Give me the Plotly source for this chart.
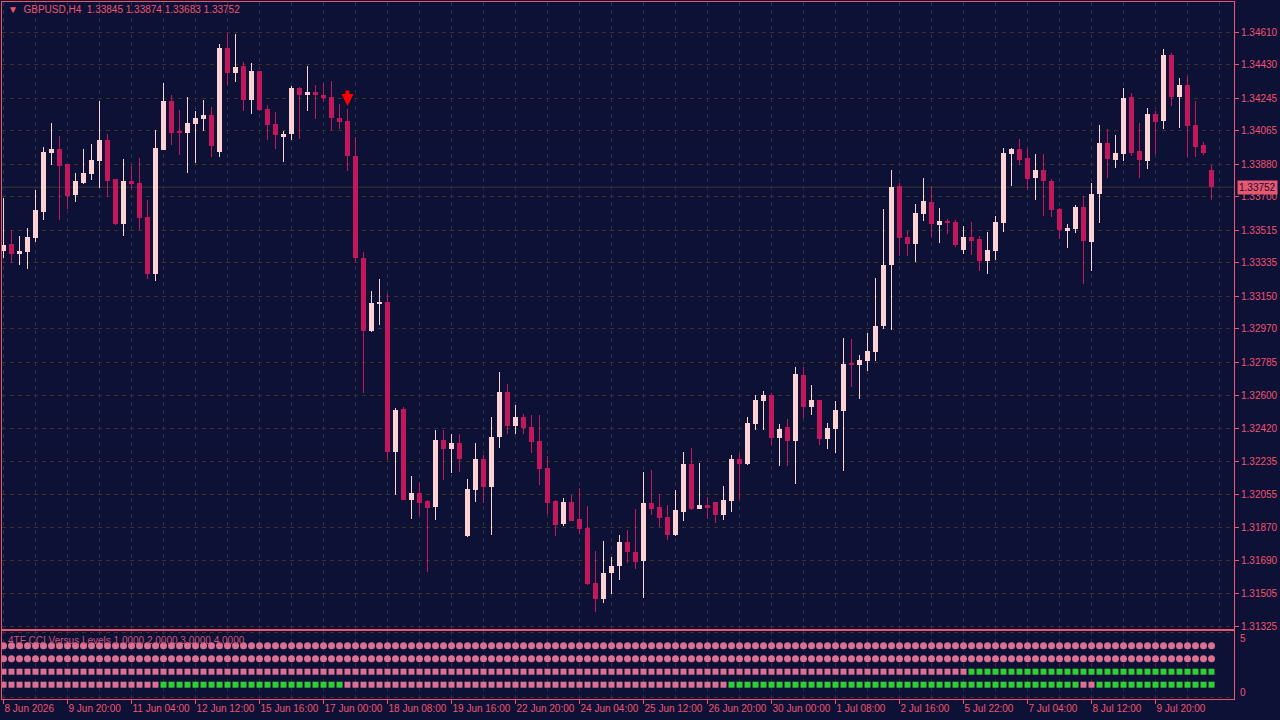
import plotly.graph_objects as go

symbol = "GBPUSD"
timeframe = "H4"

opens = [
    1.33399, 1.33438, 1.33382, 1.33393, 1.33471, 1.33615, 1.33941, 1.33963, 1.33880, 1.33709,
    1.33775, 1.33825, 1.33897, 1.34013, 1.33797, 1.33548, 1.33786, 1.33775, 1.33587, 1.33272,
    1.33958, 1.34229, 1.34057, 1.34052, 1.34101, 1.34129, 1.34151, 1.33946, 1.34522, 1.34383,
    1.34422, 1.34234, 1.34394, 1.34184, 1.34101, 1.34035, 1.34046, 1.34300, 1.34262, 1.34278,
    1.34262, 1.34251, 1.34134, 1.34118, 1.33924, 1.33360, 1.32957, 1.33111, 1.33117, 1.32287,
    1.32525, 1.32022, 1.32061, 1.32017, 1.31983, 1.32354, 1.32304, 1.32337, 1.31823, 1.32077,
    1.32249, 1.32094, 1.32370, 1.32619, 1.32431, 1.32481, 1.32426, 1.32348, 1.32199, 1.32017,
    1.31889, 1.32011, 1.31917, 1.31867, 1.31563, 1.31475, 1.31618, 1.31657, 1.31790, 1.31734,
    1.31685, 1.32005, 1.31983, 1.31928, 1.31829, 1.31956, 1.32221, 1.31972, 1.31994, 1.32011,
    1.31939, 1.32017, 1.32249, 1.32221, 1.32442, 1.32570, 1.32603, 1.32365, 1.32426, 1.32348,
    1.32713, 1.32536, 1.32575, 1.32359, 1.32415, 1.32514, 1.32780, 1.32769, 1.32791, 1.32840,
    1.32982, 1.33322, 1.33758, 1.33476, 1.33438, 1.33604, 1.33670, 1.33543, 1.33565, 1.33559,
    1.33405, 1.33476, 1.33465, 1.33344, 1.33399, 1.33554, 1.33935, 1.33963, 1.33913, 1.33803,
    1.33847, 1.33786, 1.33631, 1.33515, 1.33521, 1.33642, 1.33449, 1.33714, 1.33996, 1.33902,
    1.33935, 1.34251, 1.33952, 1.33897, 1.34157, 1.34118, 1.34483, 1.34251, 1.34317, 1.34096,
    1.33985, 1.33845,
]
highs = [
    1.33692, 1.33515, 1.33482, 1.33526, 1.33736, 1.33974, 1.34107, 1.34035, 1.33880, 1.33830,
    1.33963, 1.33991, 1.34229, 1.34046, 1.33800, 1.33908, 1.33869, 1.33913, 1.33681, 1.34068,
    1.34328, 1.34262, 1.34179, 1.34251, 1.34173, 1.34234, 1.34195, 1.34544, 1.34605, 1.34599,
    1.34444, 1.34439, 1.34397, 1.34206, 1.34168, 1.34063, 1.34312, 1.34306, 1.34422, 1.34317,
    1.34328, 1.34339, 1.34212, 1.34184, 1.34029, 1.33393, 1.33178, 1.33244, 1.33161, 1.32531,
    1.32536, 1.32155, 1.32122, 1.32020, 1.32409, 1.32409, 1.32387, 1.32387, 1.32138, 1.32337,
    1.32271, 1.32481, 1.32730, 1.32664, 1.32547, 1.32498, 1.32492, 1.32492, 1.32265, 1.32022,
    1.32033, 1.32050, 1.32088, 1.31989, 1.31740, 1.31795, 1.31707, 1.31829, 1.31856, 1.31972,
    1.32177, 1.32188, 1.32055, 1.31994, 1.32077, 1.32287, 1.32312, 1.32227, 1.32039, 1.32014,
    1.32099, 1.32271, 1.32282, 1.32481, 1.32603, 1.32625, 1.32614, 1.32442, 1.32470, 1.32758,
    1.32758, 1.32658, 1.32578, 1.32448, 1.32570, 1.32918, 1.32912, 1.32824, 1.32946, 1.33250,
    1.33631, 1.33847, 1.33775, 1.33510, 1.33659, 1.33803, 1.33758, 1.33637, 1.33576, 1.33570,
    1.33537, 1.33559, 1.33482, 1.33504, 1.33593, 1.33969, 1.33969, 1.34018, 1.33969, 1.33935,
    1.33935, 1.33797, 1.33637, 1.33548, 1.33653, 1.33703, 1.33775, 1.34096, 1.34074, 1.34040,
    1.34300, 1.34273, 1.34107, 1.34190, 1.34173, 1.34516, 1.34494, 1.34356, 1.34367, 1.34229,
    1.34002, 1.33874,
]
lows = [
    1.33360, 1.33333, 1.33322, 1.33299, 1.33449, 1.33570, 1.33875, 1.33570, 1.33631, 1.33670,
    1.33770, 1.33792, 1.33747, 1.33698, 1.33543, 1.33482, 1.33736, 1.33515, 1.33244, 1.33233,
    1.33955, 1.33985, 1.33930, 1.33830, 1.33886, 1.34063, 1.33919, 1.33919, 1.34317, 1.34334,
    1.34173, 1.34157, 1.34176, 1.34013, 1.33963, 1.33891, 1.34013, 1.34018, 1.34173, 1.34129,
    1.34223, 1.34068, 1.34074, 1.33841, 1.33338, 1.32614, 1.32954, 1.32990, 1.32243, 1.32050,
    1.32020, 1.31917, 1.31934, 1.31624, 1.31911, 1.32133, 1.32171, 1.32177, 1.31817, 1.32011,
    1.32005, 1.31829, 1.32312, 1.32387, 1.32387, 1.32387, 1.32282, 1.32105, 1.31945, 1.31823,
    1.31878, 1.31904, 1.31834, 1.31552, 1.31403, 1.31452, 1.31502, 1.31580, 1.31674, 1.31640,
    1.31480, 1.31939, 1.31873, 1.31801, 1.31823, 1.31906, 1.31967, 1.31970, 1.31917, 1.31895,
    1.31911, 1.31956, 1.32022, 1.32218, 1.32409, 1.32409, 1.32326, 1.32210, 1.32210, 1.32111,
    1.32476, 1.32492, 1.32326, 1.32307, 1.32282, 1.32182, 1.32647, 1.32581, 1.32735, 1.32791,
    1.32968, 1.32962, 1.33371, 1.33371, 1.33338, 1.33565, 1.33476, 1.33443, 1.33493, 1.33421,
    1.33382, 1.33377, 1.33288, 1.33272, 1.33349, 1.33504, 1.33758, 1.33875, 1.33736, 1.33681,
    1.33593, 1.33587, 1.33465, 1.33416, 1.33499, 1.33217, 1.33288, 1.33554, 1.33803, 1.33858,
    1.33897, 1.33924, 1.33803, 1.33852, 1.33935, 1.34074, 1.34201, 1.34079, 1.33919, 1.33919,
    1.33930, 1.33683,
]
closes = [
    1.33432, 1.33382, 1.33399, 1.33476, 1.33626, 1.33946, 1.33963, 1.33869, 1.33703, 1.33786,
    1.33830, 1.33902, 1.34013, 1.33786, 1.33548, 1.33786, 1.33770, 1.33582, 1.33272, 1.33969,
    1.34229, 1.34052, 1.34052, 1.34107, 1.34134, 1.34151, 1.33980, 1.34522, 1.34383, 1.34417,
    1.34234, 1.34394, 1.34179, 1.34096, 1.34040, 1.34046, 1.34300, 1.34262, 1.34278, 1.34262,
    1.34245, 1.34134, 1.34112, 1.33924, 1.33360, 1.32957, 1.33111, 1.33117, 1.32287, 1.32520,
    1.32022, 1.32061, 1.32005, 1.31978, 1.32354, 1.32304, 1.32337, 1.32249, 1.32083, 1.32249,
    1.32094, 1.32370, 1.32619, 1.32431, 1.32481, 1.32420, 1.32343, 1.32193, 1.32005, 1.31884,
    1.32011, 1.31906, 1.31862, 1.31557, 1.31475, 1.31618, 1.31657, 1.31790, 1.31734, 1.31679,
    1.32005, 1.31972, 1.31922, 1.31829, 1.31967, 1.32221, 1.31972, 1.31994, 1.31978, 1.31939,
    1.32022, 1.32249, 1.32221, 1.32448, 1.32575, 1.32603, 1.32365, 1.32415, 1.32348, 1.32719,
    1.32536, 1.32575, 1.32359, 1.32420, 1.32520, 1.32774, 1.32769, 1.32796, 1.32846, 1.32987,
    1.33322, 1.33753, 1.33471, 1.33438, 1.33609, 1.33675, 1.33548, 1.33565, 1.33554, 1.33432,
    1.33476, 1.33454, 1.33344, 1.33405, 1.33559, 1.33941, 1.33963, 1.33902, 1.33797, 1.33847,
    1.33786, 1.33626, 1.33515, 1.33526, 1.33642, 1.33454, 1.33714, 1.33996, 1.33908, 1.33941,
    1.34245, 1.33941, 1.33902, 1.34157, 1.34112, 1.34483, 1.34251, 1.34317, 1.34090, 1.33974,
    1.33941, 1.33752,
]

x_tick_labels = [
    "8 Jun 2026", "9 Jun 20:00", "11 Jun 04:00", "12 Jun 12:00", "15 Jun 16:00",
    "17 Jun 00:00", "18 Jun 08:00", "19 Jun 16:00", "22 Jun 20:00", "24 Jun 04:00",
    "25 Jun 12:00", "26 Jun 20:00", "30 Jun 00:00", "1 Jul 08:00", "2 Jul 16:00",
    "5 Jul 22:00", "7 Jul 04:00", "8 Jul 12:00", "9 Jul 20:00",
]
price_ticks = [
    1.34610, 1.34430, 1.34245, 1.34065, 1.33880, 1.33700, 1.33515, 1.33335, 1.33150,
    1.32970, 1.32785, 1.32600, 1.32420, 1.32235, 1.32055, 1.31870, 1.31690, 1.31505, 1.31325,
]

# sell-arrow signal
signal_bar = [43]
signal_price = [1.34201]

# 4TF CCI indicator: level rows and state runs (1 = green, 0 = pink)
cci_levels = [1.0, 2.0, 3.0, 4.0]
tf1_runs = [(0, 20), (1, 23), (0, 48), (1, 44), (0, 2), (1, 15)]
tf2_runs = [(0, 121), (1, 31)]
tf3_runs = [(0, 152)]
tf4_runs = [(0, 152)]

# ---------------------------------------------------------------
BG = "#0d1136"
PINK = "#f0546f"
BULL = "#fcd2d2"
BEAR = "#c2185b"
DOT_PINK = "#db7093"
DOT_GREEN = "#32cd32"
HGRID = "#3a3320"
VGRID = "#2e2e40"
FONT = "Liberation Sans"

n = len(opens)
idx = list(range(n))
colors = [BULL if c > o else BEAR for o, c in zip(opens, closes)]
body_base = [min(o, c) for o, c in zip(opens, closes)]
body_h = [max(abs(c - o), 0.00006) for o, c in zip(opens, closes)]
wick_h = [h - l for h, l in zip(highs, lows)]

W, H = 1280, 720
xd = [2 / W, 1234 / W]
main_dom = [1 - 629 / H, 1 - 2 / H]
sub_dom = [1 - 699 / H, 1 - 631 / H]
x_range = [-0.1875, 153.8125]
y_range = [1.31309, 1.34776]
y2_range = [-0.1, 5.131]

fig = go.Figure()
fig.add_trace(go.Bar(x=idx, y=wick_h, base=lows, width=0.125,
                     marker=dict(color=colors, line=dict(width=0)),
                     xaxis="x", yaxis="y", hoverinfo="skip", showlegend=False))
fig.add_trace(go.Bar(x=idx, y=body_h, base=body_base, width=0.625,
                     marker=dict(color=colors, line=dict(width=0)),
                     xaxis="x", yaxis="y", hoverinfo="skip", showlegend=False))


def expand(runs):
    out = []
    for v, cnt in runs:
        out += [v] * cnt
    return out


rows = [(cci_levels[3], tf4_runs, "circle", 7), (cci_levels[2], tf3_runs, "circle", 7),
        (cci_levels[1], tf2_runs, "square", 6), (cci_levels[0], tf1_runs, "square", 6)]
for lvl, runs, sym, sz in rows:
    states = expand(runs)
    fig.add_trace(go.Scatter(
        x=idx, y=[lvl] * n, mode="markers", xaxis="x2", yaxis="y2",
        marker=dict(symbol=sym, size=sz, color=[DOT_GREEN if s else DOT_PINK for s in states],
                    line=dict(width=0)),
        hoverinfo="skip", showlegend=False))

tickfont = dict(family=FONT, size=10, color=PINK)
grid_dash = "4px,4px"

fig.update_layout(
    width=W, height=H, margin=dict(l=0, r=0, t=0, b=0, autoexpand=False),
    paper_bgcolor=BG, plot_bgcolor=BG, barmode="overlay", bargap=0,
    showlegend=False,
    xaxis=dict(domain=xd, range=x_range, anchor="y", showticklabels=False, automargin=False,
               tickvals=list(range(0, n + 4, 4)), ticks="",
               showgrid=True, gridcolor=VGRID, griddash=grid_dash, gridwidth=1,
               showline=True, mirror=True, linecolor=PINK, linewidth=1, zeroline=False),
    yaxis=dict(domain=main_dom, range=y_range, anchor="x", side="right", automargin=False,
               tickvals=price_ticks, tickformat=".5f", ticks="outside", ticklen=4,
               tickcolor=PINK, tickfont=tickfont,
               showgrid=True, gridcolor=HGRID, griddash=grid_dash, gridwidth=1,
               showline=True, mirror=True, linecolor=PINK, linewidth=1, zeroline=False),
    xaxis2=dict(domain=xd, range=x_range, anchor="y2", automargin=False, tickangle=0,
                tickvals=list(range(0, 8 * len(x_tick_labels), 8)), ticktext=x_tick_labels,
                ticks="outside", ticklen=4, tickcolor=PINK, tickfont=tickfont,
                ticklabelposition="outside right",
                showgrid=True, gridcolor=VGRID, griddash=grid_dash, gridwidth=1,
                minor=dict(tickvals=list(range(4, n + 4, 8)), showgrid=True, gridcolor=VGRID,
                           griddash=grid_dash, ticks=""),
                showline=True, mirror=True, linecolor=PINK, linewidth=1, zeroline=False),
    yaxis2=dict(domain=sub_dom, range=y2_range, anchor="x2", side="right", automargin=False,
                tickvals=[0, 5], showticklabels=False, ticks="",
                showgrid=True, gridcolor=HGRID, griddash=grid_dash, gridwidth=1,
                showline=True, mirror=True, linecolor=PINK, linewidth=1, zeroline=False),
)

# current price line
fig.add_shape(type="line", xref="x domain", x0=0, x1=1, yref="y",
              y0=closes[-1], y1=closes[-1], line=dict(color="#3a3631", width=1), layer="below")

annotations = []
header = ("\u25bc\u00a0\u00a0" + f"{symbol},{timeframe}\u00a0\u00a0{opens[-1]:.5f} {highs[-1]:.5f} "
          f"{lows[-1]:.5f} {closes[-1]:.5f}")
annotations.append(dict(text=header, xref="paper", yref="paper", x=6 / W, y=1 - 10 / H,
                        xanchor="left", yanchor="middle", showarrow=False,
                        font=dict(family=FONT, size=10, color=PINK)))
sub_title = "4TF CCI Versus Levels " + " ".join(f"{v:.4f}" for v in cci_levels)
annotations.append(dict(text=sub_title, xref="paper", yref="paper", x=6 / W, y=1 - 640 / H,
                        xanchor="left", yanchor="middle", showarrow=False,
                        font=dict(family=FONT, size=10, color="#cc5474")))
annotations.append(dict(text=f"{closes[-1]:.5f}", xref="paper", yref="y", x=1237 / W,
                        y=closes[-1], xanchor="left", yanchor="middle", showarrow=False,
                        bgcolor="#e8566f", borderpad=1,
                        font=dict(family=FONT, size=10, color="#0d1136")))
annotations.append(dict(text="5", xref="paper", yref="paper", x=1238 / W, y=1 - 638 / H,
                        xanchor="left", yanchor="middle", showarrow=False, font=tickfont))
annotations.append(dict(text="0", xref="paper", yref="paper", x=1238 / W, y=1 - 692 / H,
                        xanchor="left", yanchor="middle", showarrow=False, font=tickfont))
for sb, sp in zip(signal_bar, signal_price):
    annotations.append(dict(text="", x=sb, y=sp, xref="x", yref="y", ax=0, ay=-17,
                            showarrow=True, arrowhead=2, arrowsize=0.6, arrowwidth=4,
                            arrowcolor="#ff0000"))
fig.update_layout(annotations=annotations)

fig.write_html("out.html")
